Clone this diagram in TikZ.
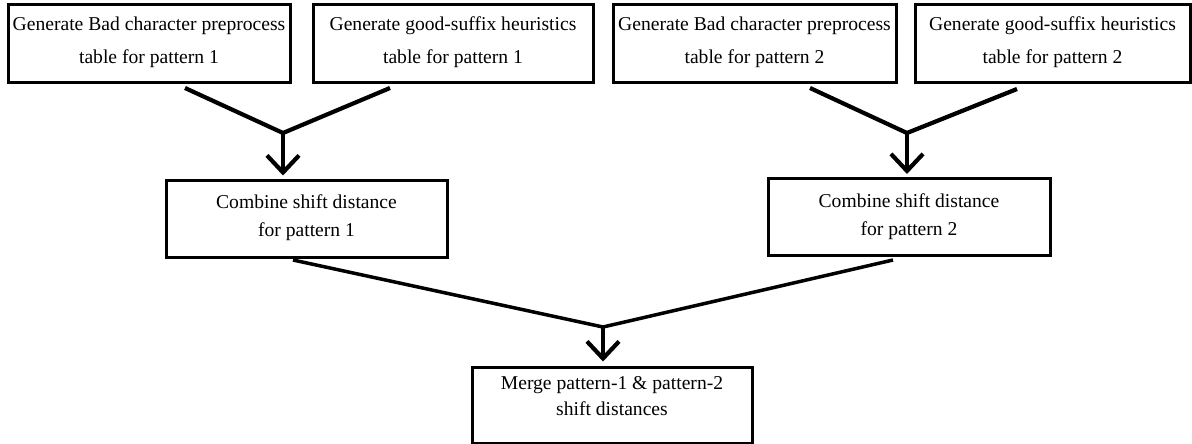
\documentclass[tikz,border=0pt]{standalone}
\usepackage{fontspec}
\setmainfont{Liberation Serif}
\usetikzlibrary{arrows.meta, calc}

\tikzset{
  stepbox/.style={draw, line width=3pt, rectangle, align=center, inner xsep=4pt, inner ysep=2pt},
  tablebox/.style={stepbox, minimum height=78pt, text height=53pt, text depth=13pt, font=\fontsize{19.6}{33}\selectfont},
  combbox/.style={stepbox, minimum height=77pt, text height=48pt, text depth=12pt, font=\fontsize{19.6}{28}\selectfont},
  mergebox/.style={stepbox, minimum height=76pt, text height=45pt, text depth=24pt, font=\fontsize{19.6}{26}\selectfont},
  funnel/.style={line width=4.2pt, line join=miter},
}

\begin{document}
\begin{tikzpicture}[x=1pt, y=-1pt, >={Straight Barb[length=17pt,width=32pt]}]
    \useasboundingbox (0,0) rectangle (1192,444);

    % Tables for pattern 1 and pattern 2
    \node[tablebox, minimum width=282pt] (bad1) at (149,44) {Generate Bad character preprocess\\table for pattern 1};
    \node[tablebox, minimum width=280pt] (good1) at (453,44) {Generate good-suffix heuristics\\table for pattern 1};
    \node[tablebox, minimum width=283pt] (bad2) at (754.5,44) {Generate Bad character preprocess\\table for pattern 2};
    \node[tablebox, minimum width=275pt] (good2) at (1052.5,44) {Generate good-suffix heuristics\\table for pattern 2};

    % Combined shift distances
    \node[combbox, minimum width=281pt] (comb1) at (306.5,218.5) {Combine shift distance\\for pattern 1};
    \node[combbox, minimum width=282pt] (comb2) at (909,217) {Combine shift distance\\for pattern 2};

    % Merge
    \node[mergebox, minimum width=280pt] (merge) at (612,405) {Merge pattern-1 \& pattern-2\\shift distances};

    % Funnel ends and joints
    \coordinate (s1) at (185,88);
    \coordinate (s2) at (390,88);
    \coordinate (j1) at (283,133);
    \coordinate (s3) at (810,88);
    \coordinate (s4) at (1017,89);
    \coordinate (j2) at (907,133);
    \coordinate (s5) at (293,260);
    \coordinate (s6) at (893,260);
    \coordinate (j3) at (603,327);

    % Pattern 1
    \draw[funnel] (s1) -- (j1) -- (s2);
    \draw[funnel, ->, shorten >=3pt] (j1) -- (j1 |- comb1.north);

    % Pattern 2
    \draw[funnel] (s3) -- (j2) -- (s4);
    \draw[funnel, ->, shorten >=3pt] (j2) -- (j2 |- comb2.north);

    % Both patterns
    \draw[funnel, line width=3.5pt] (s5) -- (j3) -- (s6);
    \draw[funnel, ->, shorten >=4pt] (j3) -- (j3 |- merge.north);
\end{tikzpicture}
\end{document}
